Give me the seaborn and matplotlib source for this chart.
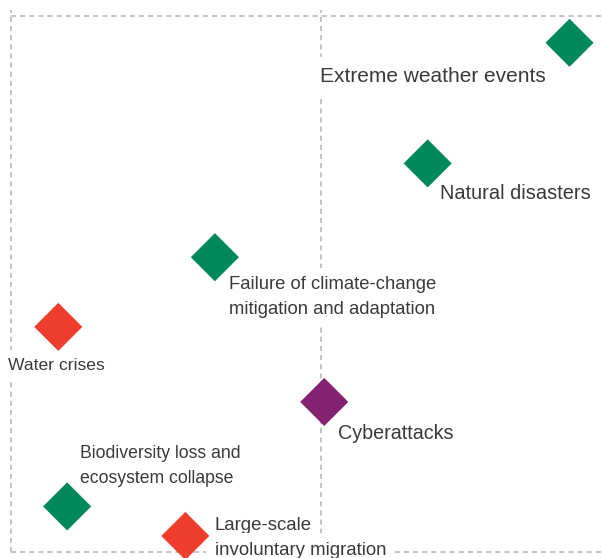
import pandas as pd
import matplotlib.pyplot as plt
import seaborn as sns

# Global risks landscape (likelihood vs impact)
risks = [
    "Extreme weather events",
    "Natural disasters",
    "Failure of climate-change\nmitigation and adaptation",
    "Water crises",
    "Cyberattacks",
    "Biodiversity loss and\necosystem collapse",
    "Large-scale\ninvoluntary migration",
]
categories = ["Environmental", "Environmental", "Environmental", "Societal",
              "Technological", "Environmental", "Societal"]
likelihood = [4.39, 3.91, 3.19, 2.66, 3.56, 2.69, 3.09]
impact = [4.40, 3.95, 3.60, 3.34, 3.06, 2.67, 2.56]
avg_likelihood = 3.55

data = pd.DataFrame({
    "Risk": risks,
    "Category": categories,
    "Likelihood": likelihood,
    "Impact": impact,
})

palette = {"Environmental": "#00875a", "Societal": "#ee3d2c", "Technological": "#842272"}

# label placement: offset (points) of the first line from the marker, font size
label_style = [
    ((-179.5, -24), 15.0),
    ((8.6, -22), 14.4),
    ((10, -20), 13.3),
    ((-36, -27.5), 12.6),
    ((10, -22.5), 14.2),
    ((9, 38), 12.7),
    ((21, 7.6), 13.4),
]
line_step = 18  # points between lines of a label

sns.set_theme(style="white")
plt.rcParams["font.family"] = ["Liberation Sans", "DejaVu Sans"]

fig = plt.figure(figsize=(6.02, 5.58), dpi=100)
ax = fig.add_axes([11 / 602, 6 / 558, 591 / 602, 536 / 558])
ax.set_xlim(2.5, 4.5)
ax.set_ylim(2.5, 4.5)

# dashed frame and average line
dash = dict(color="#c2c2c2", linewidth=1.4, linestyle=(0, (2.6, 2.1)), clip_on=False, zorder=1)
ax.axvline(2.5, ymin=0, ymax=1.012, **dash)
ax.axvline(avg_likelihood, ymin=0, ymax=1.012, **dash)
ax.axhline(4.5, **dash)
ax.axhline(2.5, **dash)

sns.scatterplot(data=data, x="Likelihood", y="Impact", hue="Category", palette=palette,
                marker="D", s=600, linewidth=0, legend=False, ax=ax, zorder=4, clip_on=False)

for i, row in data.iterrows():
    (dx, dy), size = label_style[i]
    for k, line in enumerate(row["Risk"].split("\n")):
        ax.annotate(line, xy=(row["Likelihood"], row["Impact"]),
                    xytext=(dx, dy - k * line_step), textcoords="offset points",
                    ha="left", va="center", fontsize=size, color="#3a3a3a", zorder=3,
                    bbox=dict(boxstyle="square,pad=0.45", fc="white", ec="none"))

ax.set_xlabel("")
ax.set_ylabel("")
ax.set_xticks([])
ax.set_yticks([])
for s in ax.spines.values():
    s.set_visible(False)

fig.savefig("out.png", dpi=100)
plt.close()
